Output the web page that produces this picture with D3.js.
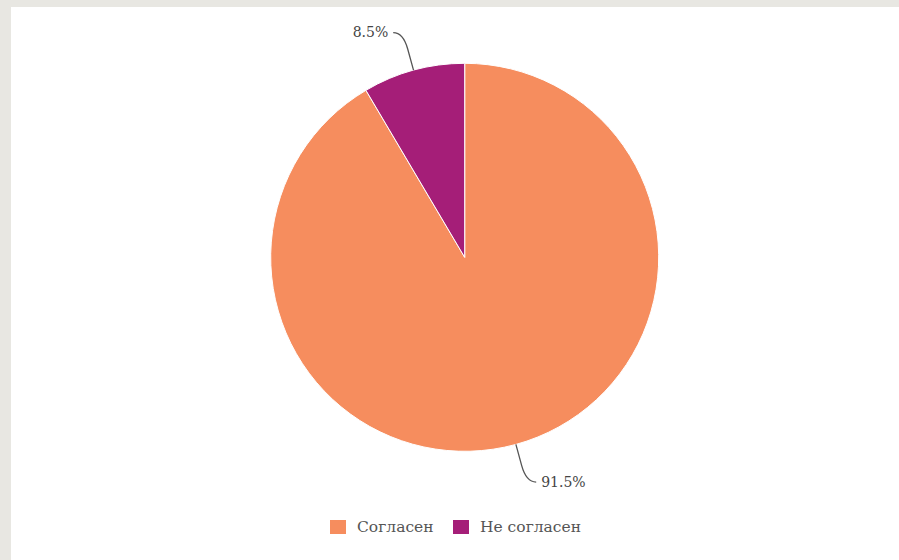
<!DOCTYPE html>
<html><head><meta charset="utf-8">
<script src="https://cdn.jsdelivr.net/npm/d3@7"></script>
<style>
html,body{margin:0;padding:0;background:#e8e7e2;}
svg{display:block;}
</style></head>
<body>
<svg id="chart" width="899" height="560"></svg>
<script>
const categories = ["Согласен", "Не согласен"];
const values = [91.5, 8.5];
const labels = ["91.5%", "8.5%"];
const colors = ["#f68d5e", "#a51e78"];

const svg = d3.select("#chart");
svg.append("rect").attr("x", 11).attr("y", 7).attr("width", 888).attr("height", 553).attr("fill", "#ffffff");

const cx = 464.7, cy = 257.3, r = 194;
const g = svg.append("g").attr("transform", `translate(${cx},${cy})`);
const pie = d3.pie().sort(null).value(d => d)(values);
const arc = d3.arc().innerRadius(0).outerRadius(r);

g.selectAll("path.slice").data(pie).join("path")
  .attr("class", "slice")
  .attr("d", arc)
  .attr("fill", (d, i) => colors[i])
  .attr("stroke", "#ffffff").attr("stroke-width", 1);

const font = "'DejaVu Serif', serif";
pie.forEach((d, i) => {
  const a = (d.startAngle + d.endAngle) / 2;
  const pt = rr => [rr * Math.sin(a), -rr * Math.cos(a)];
  const p0 = pt(r), p1 = pt(r + 22), c = pt(r + 39);
  const dir = Math.sin(a) >= 0 ? 1 : -1;
  const end = [c[0] + dir * 10, c[1]];
  g.append("path")
    .attr("d", `M${p0}L${p1}Q${c} ${end}`)
    .attr("fill", "none").attr("stroke", "#555").attr("stroke-width", 1.3);
  g.append("text")
    .attr("x", end[0] + dir * 5).attr("y", end[1])
    .attr("dy", "0.35em")
    .attr("text-anchor", dir > 0 ? "start" : "end")
    .attr("font-family", font).attr("font-size", 14)
    .attr("fill", "#444")
    .text(labels[i]);
});

const legend = svg.append("g").attr("transform", "translate(330,527)");
const offsets = [0, 123];
categories.forEach((c, i) => {
  const lg = legend.append("g").attr("transform", `translate(${offsets[i]},0)`);
  lg.append("rect").attr("x", 0).attr("y", -7).attr("width", 16).attr("height", 14).attr("fill", colors[i]);
  lg.append("text").attr("x", 27).attr("y", 0).attr("dy", "0.35em")
    .attr("font-family", font).attr("font-size", 15.5).attr("fill", "#555").text(c);
});
</script>
</body></html>
